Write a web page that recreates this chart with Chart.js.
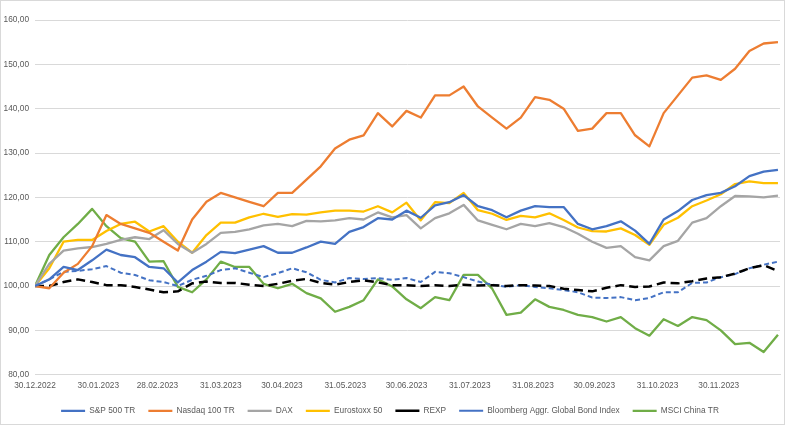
<!DOCTYPE html>
<html>
<head>
<meta charset="utf-8">
<script src="https://cdn.jsdelivr.net/npm/chart.js@4.4.0/dist/chart.umd.min.js"></script>
<style>
  html, body { margin: 0; padding: 0; background: #fff; }
  #wrap { width: 785px; height: 425px; position: relative; }
</style>
</head>
<body>
<div id="wrap"><canvas id="chart"></canvas></div>
<script>
// days since 30.12.2022 (weekly closes)
const days = [0, 7, 14, 21, 28, 35, 42, 49, 56, 63, 70, 77, 84, 91, 98, 105, 112, 119, 126, 133,
    140, 147, 154, 161, 168, 175, 182, 189, 196, 203, 210, 217, 224, 231, 238, 245, 252, 259,
    266, 273, 280, 287, 294, 301, 308, 315, 322, 329, 336, 343, 350, 357, 364];

const tickDays = [0, 31, 60, 91, 121, 152, 182, 213, 244, 274, 305, 335];
const tickLabels = ['30.12.2022', '30.01.2023', '28.02.2023', '31.03.2023', '30.04.2023', '31.05.2023',
    '30.06.2023', '31.07.2023', '31.08.2023', '30.09.2023', '31.10.2023', '30.11.2023'];

const sp500 = [100, 101.5, 104.3, 103.6, 105.8, 108.2, 107, 106.5, 104.3, 104, 100.8, 103.6, 105.5,
    107.7, 107.4, 108.2, 109, 107.5, 107.5, 108.7, 110, 109.5, 112.2, 113.3, 115.3, 115, 117,
    115.4, 118.2, 118.9, 120.5, 118, 117.1, 115.5, 117, 118, 117.8, 117.8, 114, 112.8, 113.5,
    114.6, 112.5, 109.5, 115, 116.9, 119.4, 120.5, 121, 122.5, 124.8, 125.8, 126.2];

const nasdaq = [100, 99.5, 103, 105, 109, 116, 114, 113, 112, 110, 108, 115, 119, 121, 120, 119,
    118, 121, 121, 124, 127, 131, 133, 134, 139, 136, 139.5, 138, 143, 143, 145, 140.5, 138,
    135.5, 138, 142.6, 142, 140, 135, 135.5, 139, 139, 134, 131.5, 139, 143, 147, 147.5, 146.5,
    149, 153, 154.7, 155];

const dax = [100, 105, 108, 108.5, 108.8, 109.5, 110.4, 111, 110.6, 112.6, 109.5, 107.5, 109.5,
    112, 112.2, 112.8, 113.7, 114, 113.5, 114.7, 114.6, 114.8, 115.3, 115, 116.6, 115.5, 116,
    113, 115.3, 116.4, 118.3, 114.8, 113.8, 112.8, 114, 113.5, 114.2, 113.3, 111.8, 110, 108.6,
    109, 106.5, 105.8, 109, 110.2, 114.3, 115.3, 118, 120.3, 120.2, 120, 120.4];

const eurostoxx = [100, 104, 110, 110.4, 110.4, 112.4, 114, 114.5, 112.3, 113.5, 110, 107.5, 111.5,
    114.3, 114.3, 115.5, 116.3, 115.6, 116.2, 116.1, 116.6, 117, 117, 116.8, 118, 116.6, 118.8,
    114.8, 118.9, 118.7, 121, 117.1, 116.3, 114.9, 115.8, 115.5, 116.4, 114.9, 113.2, 112.4,
    112.3, 113, 111.5, 109.3, 113.8, 115.4, 118, 119.3, 120.7, 123, 123.6, 123.2, 123.2];

const rexp = [100, 100, 100.9, 101.5, 100.9, 100.2, 100.2, 99.8, 99.2, 98.6, 98.8, 100.6, 101,
    100.7, 100.7, 100.3, 100, 100.5, 101.2, 101.6, 100.7, 100.3, 100.9, 101.3, 100.8, 100.2,
    100.2, 100, 100.2, 100, 100.3, 100.1, 100.2, 100, 100.2, 100.1, 100, 99.4, 99.1, 98.8, 99.6,
    100.2, 99.8, 99.9, 100.8, 100.6, 101.1, 101.7, 102, 102.8, 104, 104.7, 103.4];

const bloomberg = [100, 101.5, 103.2, 103.4, 103.8, 104.5, 103, 102.5, 101.3, 100.9, 100, 101.4,
    102.3, 103.6, 104, 103, 102, 102.9, 104, 103.1, 101.4, 100.8, 101.8, 101.6, 101.8, 101.4,
    101.8, 100.9, 103.2, 102.9, 102, 101, 100.3, 99.8, 100.2, 99.8, 99.5, 99.1, 98.6, 97.4,
    97.3, 97.5, 96.8, 97.3, 98.6, 98.6, 100.7, 100.8, 102, 102.7, 104, 104.8, 105.5];

const msciChina = [100, 107, 111, 114, 117.4, 113.5, 110.8, 110, 105.5, 105.6, 99.8, 98.6, 101.5,
    105.5, 104.3, 104.3, 100.5, 99.5, 100.5, 98.4, 97.2, 94.2, 95.3, 96.8, 101.5, 99.9, 97, 95,
    97.5, 96.8, 102.5, 102.5, 99.4, 93.5, 94, 97, 95.3, 94.6, 93.5, 93, 92, 93, 90.5, 88.8,
    92.5, 91, 93, 92.3, 90, 86.9, 87.2, 85.1, 89];

function toPoints(values) {
    return values.map((v, i) => ({ x: days[i], y: v }));
}

const textColor = '#595959';
const gridColor = '#d9d9d9';
const font = { family: 'Liberation Sans', size: 8.3 };

const frame = {
    id: 'frame',
    afterDraw(chart) {
        const ctx = chart.ctx;
        ctx.save();
        ctx.strokeStyle = gridColor;
        ctx.lineWidth = 1;
        ctx.strokeRect(0.5, 0.5, chart.width - 1, chart.height - 1);
        ctx.restore();
    }
};

const ctx = document.getElementById('chart').getContext('2d');
new Chart(ctx, {
    type: 'line',
    data: {
        datasets: [
            { label: 'S&P 500 TR', data: toPoints(sp500), borderColor: '#4472C4', borderWidth: 2.3 },
            { label: 'Nasdaq 100 TR', data: toPoints(nasdaq), borderColor: '#ED7D31', borderWidth: 2.3 },
            { label: 'DAX', data: toPoints(dax), borderColor: '#A5A5A5', borderWidth: 2.3 },
            { label: 'Eurostoxx 50', data: toPoints(eurostoxx), borderColor: '#FFC000', borderWidth: 2.3 },
            { label: 'REXP', data: toPoints(rexp), borderColor: '#000000', borderWidth: 2.5, borderDash: [9, 5] },
            { label: 'Bloomberg Aggr. Global Bond Index', data: toPoints(bloomberg), borderColor: '#4472C4', borderWidth: 2, borderDash: [5, 3] },
            { label: 'MSCI China TR', data: toPoints(msciChina), borderColor: '#70AD47', borderWidth: 2.3 }
        ]
    },
    options: {
        responsive: true,
        maintainAspectRatio: false,
        animation: false,
        elements: {
            point: { radius: 0 },
            line: { tension: 0, borderJoinStyle: 'round' }
        },
        layout: {
            padding: { top: 20, right: 5, bottom: 0, left: 0 }
        },
        scales: {
            x: {
                type: 'linear',
                min: 0,
                max: 365,
                afterBuildTicks: axis => {
                    axis.ticks = tickDays.map(v => ({ value: v }));
                },
                afterFit: axis => {
                    axis.height = 19;
                },
                ticks: {
                    autoSkip: false,
                    maxRotation: 0,
                    font: font,
                    color: textColor,
                    padding: 6,
                    callback: value => tickLabels[tickDays.indexOf(value)]
                },
                grid: { display: false, drawTicks: false },
                border: { display: true, color: gridColor }
            },
            y: {
                min: 80,
                max: 160,
                afterFit: axis => {
                    axis.width = 35;
                },
                ticks: {
                    stepSize: 10,
                    font: font,
                    color: textColor,
                    padding: 6,
                    callback: value => value.toFixed(2).replace('.', ',')
                },
                grid: { color: gridColor, drawTicks: false },
                border: { display: false }
            }
        },
        plugins: {
            legend: {
                position: 'bottom',
                labels: {
                    usePointStyle: true,
                    pointStyle: 'line',
                    pointStyleWidth: 24,
                    boxHeight: 8,
                    font: font,
                    color: textColor,
                    padding: 13
                }
            },
            tooltip: { enabled: false }
        }
    },
    plugins: [frame]
});
</script>
</body>
</html>
